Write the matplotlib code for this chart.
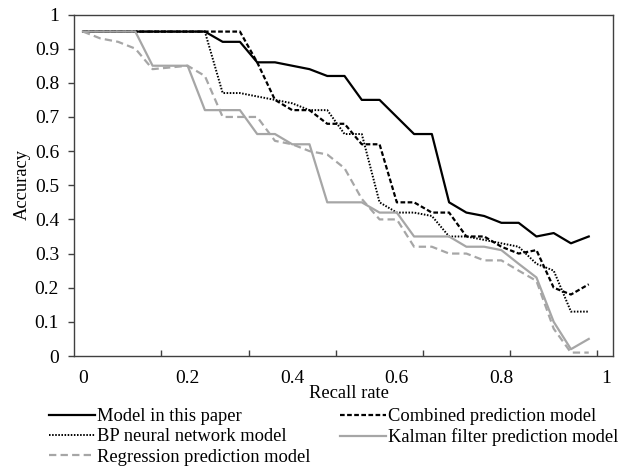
import matplotlib
matplotlib.use('Agg')
import matplotlib.pyplot as plt

# recall rate categories (30 points)
recall = [0, 0.033, 0.067, 0.1, 0.133, 0.167, 0.2, 0.233, 0.267, 0.3,
          0.333, 0.367, 0.4, 0.433, 0.467, 0.5, 0.533, 0.567, 0.6, 0.633,
          0.667, 0.7, 0.733, 0.767, 0.8, 0.833, 0.867, 0.9, 0.933, 0.967]

acc_model = [0.95, 0.95, 0.95, 0.95, 0.95, 0.95, 0.95, 0.95, 0.92, 0.92,
             0.86, 0.86, 0.85, 0.84, 0.82, 0.82, 0.75, 0.75, 0.70, 0.65,
             0.65, 0.45, 0.42, 0.41, 0.39, 0.39, 0.35, 0.36, 0.33, 0.35]
acc_combined = [0.95, 0.95, 0.95, 0.95, 0.95, 0.95, 0.95, 0.95, 0.95, 0.95,
                0.86, 0.75, 0.72, 0.72, 0.68, 0.68, 0.62, 0.62, 0.45, 0.45,
                0.42, 0.42, 0.35, 0.35, 0.32, 0.30, 0.31, 0.20, 0.18, 0.21]
acc_bp = [0.95, 0.95, 0.95, 0.95, 0.95, 0.95, 0.95, 0.95, 0.77, 0.77,
          0.76, 0.75, 0.74, 0.72, 0.72, 0.65, 0.65, 0.45, 0.42, 0.42,
          0.41, 0.35, 0.35, 0.34, 0.33, 0.32, 0.27, 0.25, 0.13, 0.13]
acc_kalman = [0.95, 0.95, 0.95, 0.95, 0.85, 0.85, 0.85, 0.72, 0.72, 0.72,
              0.65, 0.65, 0.62, 0.62, 0.45, 0.45, 0.45, 0.42, 0.42, 0.35,
              0.35, 0.35, 0.32, 0.32, 0.31, 0.27, 0.23, 0.10, 0.02, 0.05]
acc_regression = [0.95, 0.93, 0.92, 0.90, 0.84, 0.845, 0.85, 0.82, 0.70, 0.70,
                  0.70, 0.63, 0.62, 0.60, 0.59, 0.55, 0.46, 0.40, 0.40, 0.32,
                  0.32, 0.30, 0.30, 0.28, 0.28, 0.25, 0.22, 0.08, 0.01, 0.01]

x_labels = ['0', '0.2', '0.4', '0.6', '0.8', '1']
x_label_pos = [0, 0.2, 0.4, 0.6, 0.8, 1.0]
y_ticks = [0, 0.1, 0.2, 0.3, 0.4, 0.5, 0.6, 0.7, 0.8, 0.9, 1.0]
y_labels = ['0', '0.1', '0.2', '0.3', '0.4', '0.5', '0.6', '0.7', '0.8', '0.9', '1']

plt.rcParams['font.family'] = ['Liberation Serif', 'DejaVu Serif']
fs_tick = 14
fs = 13.3
gray = '#a6a6a6'

fig = plt.figure(figsize=(6.25, 4.68), dpi=100)
ax = fig.add_axes([0.1189, 0.2393, 0.8619, 0.7297])

l1, = ax.plot(recall, acc_model, color='black', lw=1.6, label='Model in this paper')
l2, = ax.plot(recall, acc_combined, color='black', lw=1.6, dashes=(2.1, 1.1),
              label='Combined prediction model')
l3, = ax.plot(recall, acc_bp, color='black', lw=1.4, dashes=(0.8, 0.8),
              label='BP neural network model')
l4, = ax.plot(recall, acc_kalman, color=gray, lw=1.6, label='Kalman filter prediction model')
l5, = ax.plot(recall, acc_regression, color=gray, lw=1.6, dashes=(3.3, 1.9),
              label='Regression prediction model')

# category axis: points sit between tick marks, 5 categories per tick
ax.set_xlim(-0.0167, 1.0134)
ax.set_ylim(0, 1)
ax.set_xticks([0.15, 0.3167, 0.4833, 0.65, 0.8167, 0.9833], [''] * 6)
ax.set_xticks(x_label_pos, x_labels, minor=True)
ax.tick_params(axis='x', which='major', direction='in', length=4, width=1, color='#404040')
ax.tick_params(axis='x', which='minor', length=0, pad=10, labelsize=fs_tick)
ax.set_yticks(y_ticks, y_labels)
ax.tick_params(axis='y', direction='out', length=4, width=1, color='#404040', pad=7,
               labelsize=fs_tick)

for sp in ax.spines.values():
    sp.set_color('#404040')
    sp.set_linewidth(1.0)

fig.text(349 / 625, 1 - 393 / 468, 'Recall rate', ha='center', va='center', fontsize=fs)
fig.text(22 / 625, 1 - 185 / 468, 'Accuracy', ha='center', va='center', rotation=90, fontsize=fs)

fig.legend([l1, l3, l5, l2, l4],
           [l1.get_label(), l3.get_label(), l5.get_label(), l2.get_label(), l4.get_label()],
           ncol=2, loc='upper left', bbox_to_anchor=(49 / 625, 1 - 408 / 468),
           frameon=False, fontsize=fs, handlelength=2.5, handletextpad=0.12,
           columnspacing=1.58, labelspacing=0.18, borderpad=0, borderaxespad=0)

fig.savefig('out.png', dpi=100)
